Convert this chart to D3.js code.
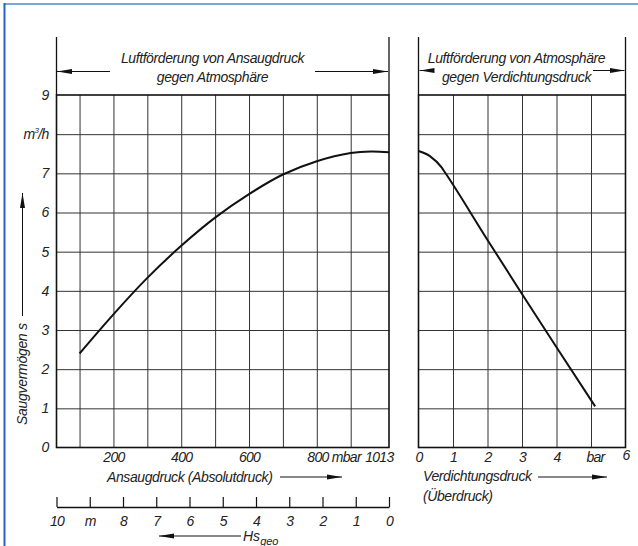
<!DOCTYPE html>
<html lang="de">
<head>
<meta charset="UTF-8">
<title>Saugvermögen</title>
<script src="https://cdn.jsdelivr.net/npm/d3@7/dist/d3.min.js"></script>
<style>
  body{margin:0;background:#fff}
  text{font-family:"Liberation Sans",Arial,sans-serif;font-style:italic;fill:#222}
  .grid line{stroke:#333;stroke-width:1}
  .grid path{display:none}
  .lab path,.lab line{display:none}
  .lab text{font-size:14px;letter-spacing:-0.7px}
</style>
</head>
<body>
<div class="chart"></div>
<script>
// data
// left panel: suction pressure (mbar abs) -> pumping speed (m3/h)
let ansaugDruck=[100,200,300,400,500,600,700,800,900,960,1013]
let saugLinks=[2.4,3.4,4.33,5.15,5.87,6.47,6.97,7.31,7.52,7.56,7.54]
// right panel: compression pressure (bar) -> pumping speed
let verdDruck=[0,0.33,0.67,0.77,2,3,4,5.12]
let saugRechts=[7.57,7.44,7.15,7.02,5.3,3.92,2.56,1.05]
// ticks
let yTicks=[0,1,2,3,4,5,6,7,8,9]
let xLeftTicks=[200,400,600,800,1013]
let xLeftGrid=[100,200,300,400,500,600,700,800,900]
let xRightTicks=[0,1,2,3,4,5,6]
let hsTicks=[10,9,8,7,6,5,4,3,2,1,0]

let W=638,H=546
let svg=d3.select('.chart').append('svg').attr('width',W).attr('height',H)
svg.append('rect').attr('width',W).attr('height',H).attr('fill','#fff')

// blue frame (top + left only)
svg.append('line').attr('x1',4).attr('x2',W).attr('y1',4).attr('y2',4).attr('stroke','#7ba7d7').attr('stroke-width',2)
svg.append('line').attr('x1',4.5).attr('x2',4.5).attr('y1',3).attr('y2',H).attr('stroke','#2466b8').attr('stroke-width',2)

let defs=svg.append('defs')
defs.append('marker').attr('id','ah').attr('viewBox','0 0 15 6').attr('refX',15).attr('refY',3)
    .attr('markerWidth',15).attr('markerHeight',6).attr('markerUnits','userSpaceOnUse').attr('orient','auto')
    .append('path').attr('d','M0,0.5 L15,3 L0,5.5 Z').attr('fill','#111')

function arrow(x1,y1,x2,y2){
    svg.append('line').attr('x1',x1).attr('y1',y1).attr('x2',x2).attr('y2',y2)
        .attr('stroke','#111').attr('stroke-width',1).attr('marker-end','url(#ah)')
}

//scales
let y=d3.scaleLinear().domain([0,9]).range([447.5,95])
let xL=d3.scaleLinear().domain([32,1013]).range([56.5,389])
let xR=d3.scaleLinear().domain([0,6]).range([418.5,625.5])
let hs=d3.scaleLinear().domain([10,0]).range([56.5,389])

//grids
function panel(x,vals){
    let [a,b]=x.range()
    svg.append('g').attr('class','grid').attr('transform','translate('+a+',0)')
        .call(d3.axisLeft(y).tickValues(yTicks.slice(1,-1)).tickSize(-(b-a)).tickFormat(''))
    svg.append('g').attr('class','grid').attr('transform','translate(0,'+y(0)+')')
        .call(d3.axisBottom(x).tickValues(vals).tickSize(-(y(0)-y(9))).tickFormat(''))
    svg.append('rect').attr('x',a).attr('y',y(9)).attr('width',b-a).attr('height',y(0)-y(9))
        .attr('fill','none').attr('stroke','#111').attr('stroke-width',1.6)
    // header brackets
    svg.append('line').attr('x1',a).attr('x2',a).attr('y1',37).attr('y2',y(9)).attr('stroke','#111').attr('stroke-width',1.3)
    svg.append('line').attr('x1',b).attr('x2',b).attr('y1',37).attr('y2',y(9)).attr('stroke','#111').attr('stroke-width',1.3)
}
panel(xL,xLeftGrid)
panel(xR,xRightTicks.slice(1,-1))

//curves
let line=d3.line().curve(d3.curveCatmullRom.alpha(0.5))
svg.append('path').attr('d',line(ansaugDruck.map((d,i)=>[xL(d),y(saugLinks[i])])))
    .attr('fill','none').attr('stroke','#111').attr('stroke-width',2)
let line2=d3.line().curve(d3.curveMonotoneX)
svg.append('path').attr('d',line2(verdDruck.map((d,i)=>[xR(d),y(saugRechts[i])])))
    .attr('fill','none').attr('stroke','#111').attr('stroke-width',2)

//y labels
let ya=svg.append('g').attr('class','lab').attr('transform','translate('+xL.range()[0]+',0)')
    .call(d3.axisLeft(y).tickValues(yTicks).tickSize(0).tickPadding(8).tickFormat(d=>d===8?'':d))
ya.selectAll('.tick').filter(d=>d===8).select('text')
    .call(t=>{t.append('tspan').text('m');t.append('tspan').text('3').attr('font-size',8).attr('dy',-6);t.append('tspan').text('/h').attr('dy',6)})

//x labels
let xl=svg.append('g').attr('class','lab').attr('transform','translate(0,'+y(0)+')')
    .call(d3.axisBottom(xL).tickValues(xLeftTicks).tickSize(0).tickPadding(5).tickFormat(d=>d===800?'800 mbar':d))
xl.selectAll('.tick').filter(d=>d===800).select('text').attr('text-anchor','start').attr('dx',-10)
xl.selectAll('.tick').filter(d=>d===1013).select('text').attr('text-anchor','end').attr('dx',4)
let xr=svg.append('g').attr('class','lab').attr('transform','translate(0,'+y(0)+')')
    .call(d3.axisBottom(xR).tickValues(xRightTicks).tickSize(0).tickPadding(5).tickFormat(d=>d===5?'bar':d))
xr.selectAll('.tick').filter(d=>d===5).select('text').attr('dx',4)
xr.selectAll('.tick').filter(d=>d===6).select('text').attr('dy','0.5em')

//Hs geo scale
let hg=svg.append('g').attr('transform','translate(0,507)')
    .call(d3.axisBottom(hs).tickValues(hsTicks).tickSize(-10).tickSizeOuter(0).tickPadding(9).tickFormat(d=>d===9?'m':d))
hg.select('.domain').attr('stroke','#111').attr('stroke-width',1.4)
hg.selectAll('line').attr('stroke','#111').attr('stroke-width',1.2)
hg.selectAll('text').attr('font-size',14).attr('font-family',null).attr('letter-spacing',-0.7)

//titles
svg.append('text').attr('x',212.5).attr('y',63).attr('text-anchor','middle').attr('font-size',14).attr('letter-spacing',-0.4).text('Luftförderung von Ansaugdruck')
svg.append('text').attr('x',212.5).attr('y',82).attr('text-anchor','middle').attr('font-size',14).attr('letter-spacing',-0.4).text('gegen Atmosphäre')
arrow(110,71.5,57,71.5)
arrow(315,71.5,388,71.5)
svg.append('text').attr('x',516.5).attr('y',63).attr('text-anchor','middle').attr('font-size',14).attr('letter-spacing',-0.4).text('Luftförderung von Atmosphäre')
svg.append('text').attr('x',516.5).attr('y',82).attr('text-anchor','middle').attr('font-size',14).attr('letter-spacing',-0.4).text('gegen Verdichtungsdruck')
arrow(433,70.5,419.5,70.5)
arrow(593,70.5,624.5,70.5)

svg.append('text').attr('x',107).attr('y',482).attr('font-size',14).attr('letter-spacing',-0.4).text('Ansaugdruck (Absolutdruck)')
arrow(280,477,342,477)
svg.append('text').attr('x',423).attr('y',481).attr('font-size',14).attr('letter-spacing',-0.4).text('Verdichtungsdruck')
arrow(538,477,607,477)
svg.append('text').attr('x',423).attr('y',501).attr('font-size',14).attr('letter-spacing',-0.4).text('(Überdruck)')

let ht=svg.append('text').attr('x',243).attr('y',541).attr('font-size',14)
ht.append('tspan').text('Hs')
ht.append('tspan').text('geo').attr('font-size',11).attr('dy',4)
arrow(241,536,159,536)

svg.append('text').attr('transform','translate(27,425) rotate(-90)').attr('font-size',14).attr('letter-spacing',-0.3).text('Saugvermögen  s')
arrow(22.5,316,22.5,193)
</script>
</body>
</html>
